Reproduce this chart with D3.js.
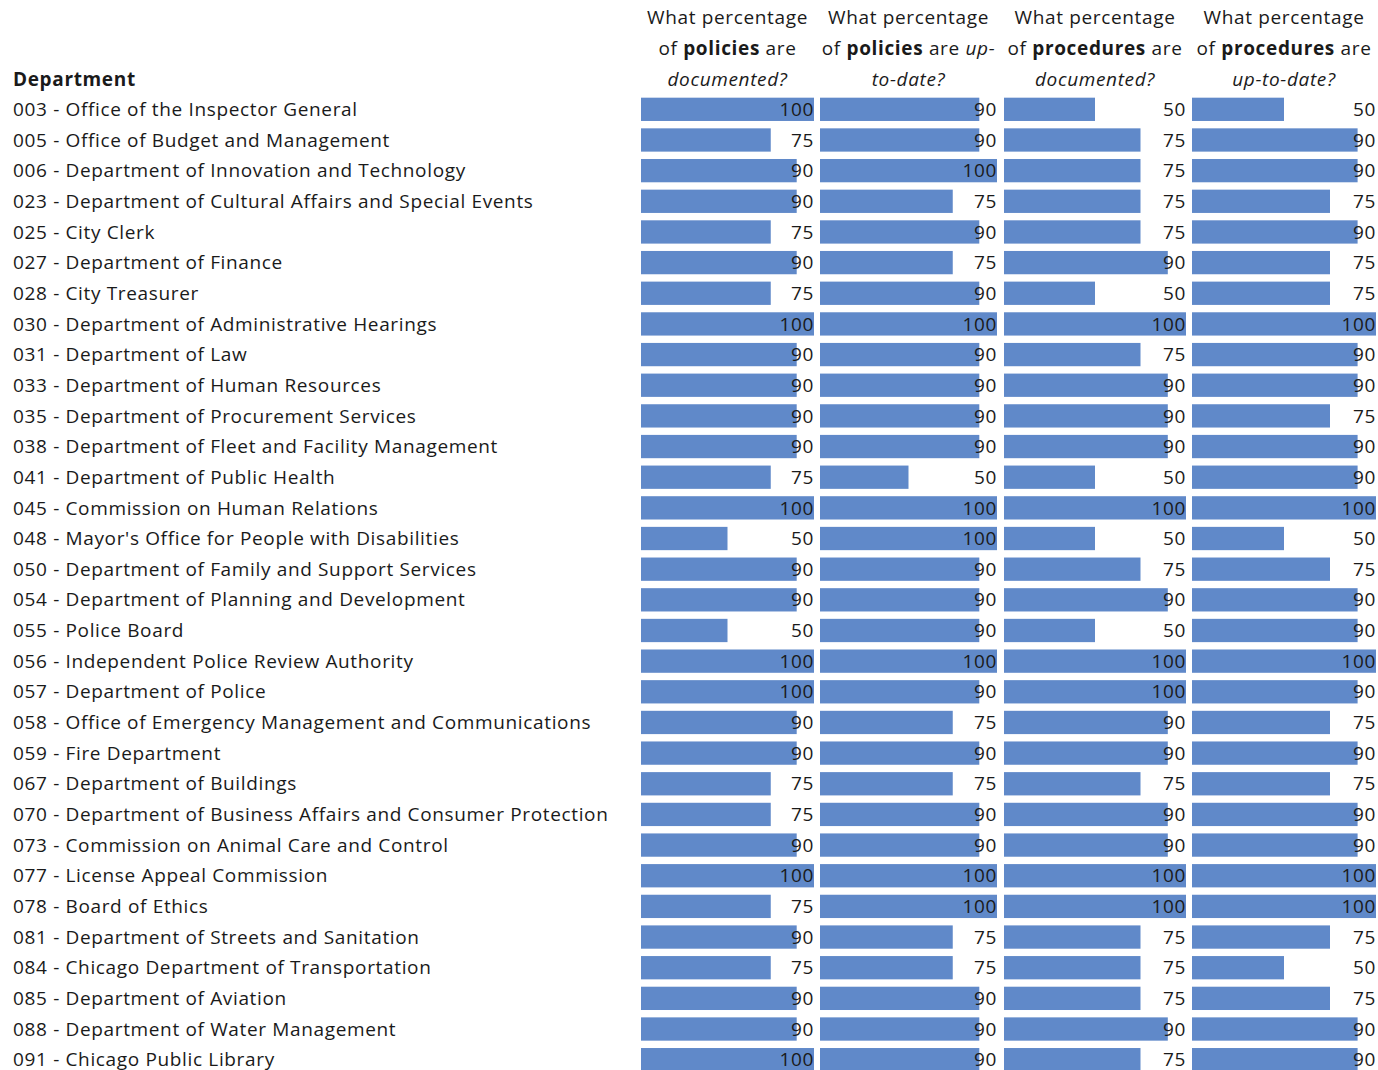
<!DOCTYPE html>
<html>
<head>
<meta charset="utf-8">
<script src="https://cdn.jsdelivr.net/npm/d3@7"></script>
<style>
  body { margin: 0; background: #fff; }
  text { font-family: "Open Sans", "Noto Sans", sans-serif; fill: #1a1a1a; }
</style>
</head>
<body>
<div id="chart"></div>
<script>
// Department names (rows)
const departments = [
    "003 - Office of the Inspector General",
    "005 - Office of Budget and Management",
    "006 - Department of Innovation and Technology",
    "023 - Department of Cultural Affairs and Special Events",
    "025 - City Clerk",
    "027 - Department of Finance",
    "028 - City Treasurer",
    "030 - Department of Administrative Hearings",
    "031 - Department of Law",
    "033 - Department of Human Resources",
    "035 - Department of Procurement Services",
    "038 - Department of Fleet and Facility Management",
    "041 - Department of Public Health",
    "045 - Commission on Human Relations",
    "048 - Mayor's Office for People with Disabilities",
    "050 - Department of Family and Support Services",
    "054 - Department of Planning and Development",
    "055 - Police Board",
    "056 - Independent Police Review Authority",
    "057 - Department of Police",
    "058 - Office of Emergency Management and Communications",
    "059 - Fire Department",
    "067 - Department of Buildings",
    "070 - Department of Business Affairs and Consumer Protection",
    "073 - Commission on Animal Care and Control",
    "077 - License Appeal Commission",
    "078 - Board of Ethics",
    "081 - Department of Streets and Sanitation",
    "084 - Chicago Department of Transportation",
    "085 - Department of Aviation",
    "088 - Department of Water Management",
    "091 - Chicago Public Library"
];

// One array per question (column)
const policiesDocumented = [100, 75, 90, 90, 75, 90, 75, 100, 90, 90, 90, 90, 75, 100, 50, 90, 90, 50, 100, 100, 90, 90, 75, 75, 90, 100, 75, 90, 75, 90, 90, 100];
const policiesUpToDate   = [90, 90, 100, 75, 90, 75, 90, 100, 90, 90, 90, 90, 50, 100, 100, 90, 90, 90, 100, 90, 75, 90, 75, 90, 90, 100, 100, 75, 75, 90, 90, 90];
const proceduresDocumented = [50, 75, 75, 75, 75, 90, 50, 100, 75, 90, 90, 90, 50, 100, 50, 75, 90, 50, 100, 100, 90, 90, 75, 90, 90, 100, 100, 75, 75, 75, 90, 75];
const proceduresUpToDate = [50, 90, 90, 75, 90, 75, 75, 100, 90, 90, 75, 90, 90, 100, 50, 75, 90, 90, 100, 90, 75, 90, 75, 90, 90, 100, 100, 75, 50, 75, 90, 90];

// Column headers: each line is a list of [text, style] pieces
const headers = [
    [[["What percentage", ""]], [["of ", ""], ["policies", "b"], [" are", ""]], [["documented?", "i"]]],
    [[["What percentage", ""]], [["of ", ""], ["policies", "b"], [" are ", ""], ["up-", "i"]], [["to-date?", "i"]]],
    [[["What percentage", ""]], [["of ", ""], ["procedures", "b"], [" are", ""]], [["documented?", "i"]]],
    [[["What percentage", ""]], [["of ", ""], ["procedures", "b"], [" are", ""]], [["up-to-date?", "i"]]]
];

const series = [policiesDocumented, policiesUpToDate, proceduresDocumented, proceduresUpToDate];

const W = 1378, H = 1070;
const barColor = "#6089c9";
const fontSize = "19px";
const spacing = "0.65px";

const svg = d3.select("#chart").append("svg")
    .attr("width", W)
    .attr("height", H);

// Row band scale
const y = d3.scaleBand()
    .domain(departments)
    .range([94, 1075])
    .paddingInner(0.24)
    .paddingOuter(0.12);

// Column extents (left edge, width) for each question
const cols = [
    { x0: 641, w: 173 },
    { x0: 820, w: 177 },
    { x0: 1004, w: 182 },
    { x0: 1192, w: 184 }
];

// "Department" title
svg.append("text")
    .attr("x", 13)
    .attr("y", 86)
    .style("font-size", fontSize)
    .style("letter-spacing", spacing)
    .style("font-weight", "bold")
    .text("Department");

// Department labels
svg.append("g")
    .selectAll("text")
    .data(departments)
    .join("text")
    .attr("x", 13)
    .attr("y", d => y(d) + y.bandwidth() / 2)
    .attr("dy", "0.35em")
    .style("font-size", fontSize)
    .style("letter-spacing", spacing)
    .text(d => d);

// Columns
series.forEach((vals, i) => {
    const c = cols[i];
    const x = d3.scaleLinear().domain([0, 100]).range([c.x0, c.x0 + c.w]);
    const g = svg.append("g");

    g.selectAll("rect")
        .data(vals)
        .join("rect")
        .attr("x", x(0))
        .attr("y", (d, j) => y(departments[j]))
        .attr("width", d => x(d) - x(0))
        .attr("height", y.bandwidth())
        .attr("fill", barColor);

    g.selectAll("text.val")
        .data(vals)
        .join("text")
        .attr("class", "val")
        .attr("x", x(100))
        .attr("y", (d, j) => y(departments[j]) + y.bandwidth() / 2)
        .attr("dy", "0.35em")
        .attr("text-anchor", "end")
        .style("font-size", fontSize)
        .style("letter-spacing", spacing)
        .text(d => d);

    // header
    const cx = c.x0 + c.w / 2;
    headers[i].forEach((line, k) => {
        const t = svg.append("text")
            .attr("x", cx)
            .attr("y", 24 + k * 31)
            .attr("text-anchor", "middle")
            .style("font-size", fontSize)
            .style("letter-spacing", spacing);
        line.forEach(([s, st]) => {
            t.append("tspan")
                .style("font-weight", st === "b" ? "bold" : "normal")
                .style("font-style", st === "i" ? "italic" : "normal")
                .text(s);
        });
    });
});
</script>
</body>
</html>
